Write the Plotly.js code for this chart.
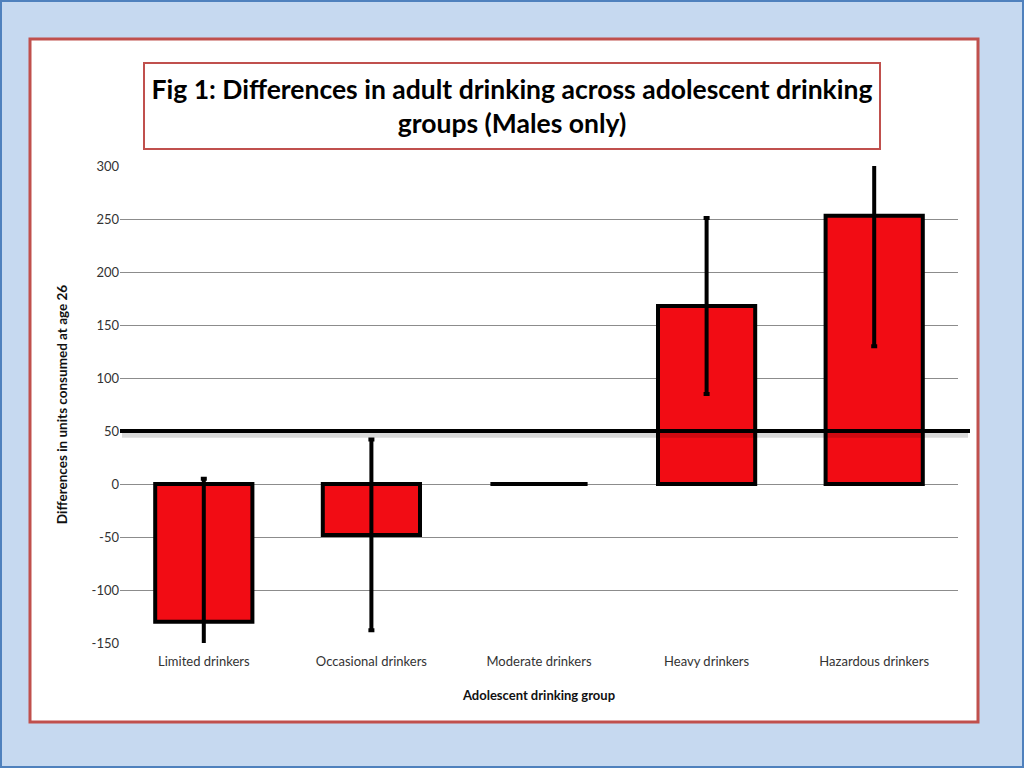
<!DOCTYPE html>
<html>
<head>
<meta charset="utf-8">
<script src="https://cdn.plot.ly/plotly-3.0.1.min.js"></script>
<style>
  body { margin: 0; padding: 0; }
  #grafico { width: 1024px; height: 768px; }
</style>
</head>
<body>
<div id="grafico"></div>
<script>
// datos
const grupos = ["Limited drinkers", "Occasional drinkers", "Moderate drinkers", "Heavy drinkers", "Hazardous drinkers"];
const diferencias = [-130, -48, 0, 168, 253];
const errores = [135, 90, 0, 83, 123];
const lineaReferencia = 50;
const ticksY = [-150, -100, -50, 0, 50, 100, 150, 200, 250, 300];
const etiquetasY = ["-150", "-100", "-50", "0", "50", "100", "150", "200", "250", "300"];

const fuente = "Lato, 'Open Sans', sans-serif";

// coordenadas en "paper" para el panel blanco y el marco
const W = 1024, H = 768;
const mIzq = 120, mDer = 66, mSup = 166, mInf = 125;
const anchoP = W - mIzq - mDer;
const altoP = H - mSup - mInf;
function px(x) { return (x - mIzq) / anchoP; }
function py(y) { return (H - mInf - y) / altoP; }

var barras = {
    x: grupos,
    y: diferencias,
    type: 'bar',
    width: 0.58,
    marker: { color: '#f20c14', line: { color: '#000000', width: 4 } },
    error_y: {
        type: 'data',
        array: errores,
        visible: true,
        color: '#000000',
        thickness: 4,
        width: 3
    },
    hoverinfo: 'x+y'
};

var layout = {
    width: W,
    height: H,
    margin: { l: mIzq, r: mDer, t: mSup, b: mInf },
    paper_bgcolor: '#c6d9f0',
    plot_bgcolor: '#ffffff',
    showlegend: false,
    font: { family: fuente, color: '#404040', size: 13 },
    xaxis: {
        showgrid: false,
        showline: false,
        ticks: '',
        ticklabelstandoff: 9,
        tickfont: { size: 13, color: '#333333' },
        title: { text: 'Adolescent drinking group', font: { size: 13, color: '#111111', weight: 'bold' }, standoff: 22 }
    },
    yaxis: {
        range: [-150, 300],
        tickvals: ticksY,
        ticktext: etiquetasY,
        showgrid: true,
        gridcolor: '#8c8c8c',
        gridwidth: 1,
        zeroline: false,
        showline: false,
        tickfont: { size: 13, color: '#333333' },
        title: { text: 'Differences in units consumed at age 26', font: { size: 13.5, color: '#111111', weight: 'bold' }, standoff: 20 }
    },
    shapes: [
        // marco azul exterior
        { type: 'rect', xref: 'paper', yref: 'paper', layer: 'below',
          x0: px(1), x1: px(W - 1), y0: py(H - 1), y1: py(1),
          line: { color: '#4f81bd', width: 2 } },
        // panel blanco
        { type: 'rect', xref: 'paper', yref: 'paper', layer: 'below',
          x0: px(30), x1: px(978), y0: py(722), y1: py(39),
          fillcolor: '#ffffff', line: { color: '#c0504d', width: 3 } },
        // sombra de la linea de referencia
        { type: 'line', xref: 'paper', yref: 'y', layer: 'above',
          x0: px(122), x1: px(968), y0: lineaReferencia - 4, y1: lineaReferencia - 4,
          line: { color: 'rgba(0,0,0,0.15)', width: 5 } },
        // linea de referencia en 50
        { type: 'line', xref: 'paper', yref: 'y', layer: 'above',
          x0: px(120), x1: px(970), y0: lineaReferencia, y1: lineaReferencia,
          line: { color: '#000000', width: 4 } }
    ],
    annotations: [
        {
            xref: 'paper', yref: 'paper',
            x: px(512), y: py(106),
            xanchor: 'center', yanchor: 'middle',
            text: '<b>Fig 1: Differences in adult drinking across adolescent drinking<br>groups (Males only)</b>',
            showarrow: false,
            font: { family: fuente, size: 26.5, color: '#000000' },
            align: 'center',
            width: 734,
            height: 84,
            bgcolor: '#ffffff',
            bordercolor: '#c0504d',
            borderwidth: 2,
            borderpad: 0
        }
    ]
};

Plotly.newPlot('grafico', [barras], layout, { displayModeBar: false, staticPlot: true });
</script>
</body>
</html>
